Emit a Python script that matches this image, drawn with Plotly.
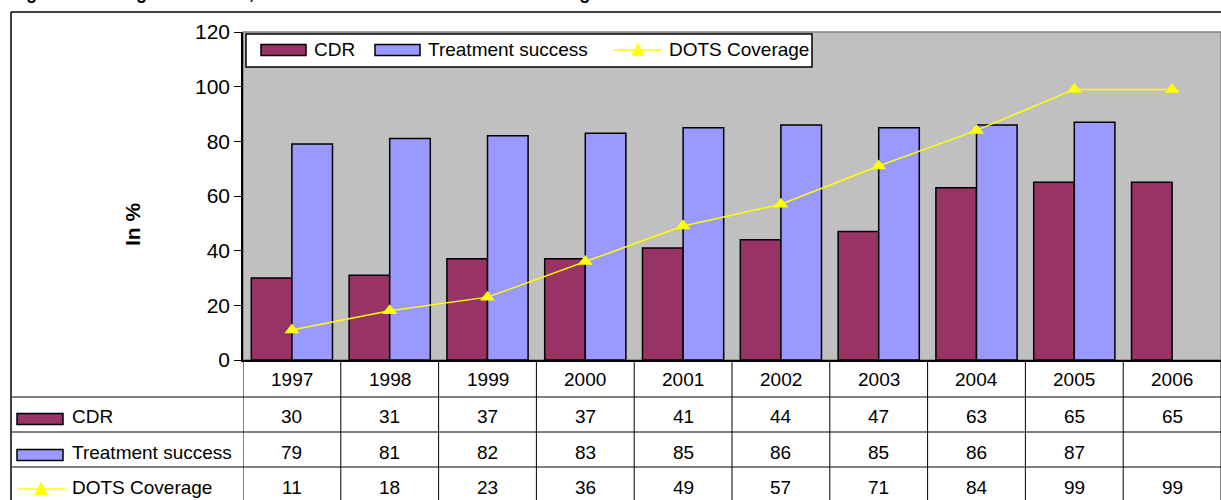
import plotly.graph_objects as go

years = ["1997", "1998", "1999", "2000", "2001", "2002", "2003", "2004", "2005", "2006"]
cdr = [30, 31, 37, 37, 41, 44, 47, 63, 65, 65]
treatment_success = [79, 81, 82, 83, 85, 86, 85, 86, 87, None]
dots_coverage = [11, 18, 23, 36, 49, 57, 71, 84, 99, 99]
series_names = ["CDR", "Treatment success", "DOTS Coverage"]
y_ticks = [0, 20, 40, 60, 80, 100, 120]

C_CDR = "#993366"
C_TS = "#9999FF"
C_DOTS = "#FFFF00"
FONT = "Liberation Sans, Arial, sans-serif"

W, H = 1221, 500
L, R, T, B = 243, 1221, 32, 360


def px(x):
    return (x - L) / (R - L)


def py(y):
    return (B - y) / (B - T)


fig = go.Figure()
fig.add_trace(go.Bar(x=years, y=cdr, name=series_names[0], marker=dict(color=C_CDR, line=dict(color="black", width=1.5))))
fig.add_trace(go.Bar(x=years, y=treatment_success, name=series_names[1], marker=dict(color=C_TS, line=dict(color="black", width=1.5))))
fig.add_trace(go.Scatter(x=years, y=dots_coverage, name=series_names[2], mode="lines+markers",
                         line=dict(color=C_DOTS, width=1.5),
                         marker=dict(symbol="triangle-up", size=13, color=C_DOTS)))

shapes = []
annotations = []

# plot area border (grey)
shapes.append(dict(type="rect", xref="paper", yref="paper", x0=0, x1=1, y0=0, y1=1,
                   line=dict(color="#808080", width=1.5), layer="below"))

# outer frame
shapes.append(dict(type="line", xref="paper", yref="paper", x0=px(11), x1=px(11), y0=py(12), y1=py(H + 2),
                   line=dict(color="black", width=1.5)))
shapes.append(dict(type="line", xref="paper", yref="paper", x0=px(11), x1=1, y0=py(12), y1=py(12),
                   line=dict(color="black", width=1.5)))

# table horizontal lines
row_lines = [397, 432, 467]
for yl in row_lines:
    shapes.append(dict(type="line", xref="paper", yref="paper", x0=px(12), x1=1, y0=py(yl), y1=py(yl),
                       line=dict(color="black", width=1)))

# table vertical lines along category boundaries
n = len(years)
for i in range(n + 1):
    shapes.append(dict(type="line", xref="x", yref="paper", x0=i - 0.5, x1=i - 0.5, y0=0, y1=py(H + 2),
                       line=dict(color="black", width=1)))

# table text
row_y = [379, 416, 452, 488]
rows = [years, cdr, treatment_success, dots_coverage]
for r_i, vals in enumerate(rows):
    for i, v in enumerate(vals):
        if v is None:
            continue
        annotations.append(dict(x=i, y=py(row_y[r_i]), xref="x", yref="paper", text=str(v), showarrow=False,
                                font=dict(family=FONT, size=19, color="black"), xanchor="center", yanchor="middle"))

# row headers with legend keys
hdr_y = row_y[1:]
colors = [C_CDR, C_TS]
for k in range(2):
    yc = hdr_y[k] + 3
    shapes.append(dict(type="rect", xref="paper", yref="paper", x0=px(17), x1=px(63), y0=py(yc - 5.5), y1=py(yc + 5.5),
                       fillcolor=colors[k], line=dict(color="black", width=1.5)))
yc = hdr_y[2] + 1
shapes.append(dict(type="line", xref="paper", yref="paper", x0=px(17), x1=px(65), y0=py(yc), y1=py(yc),
                   line=dict(color=C_DOTS, width=1.5)))


def tri(xc, yc, s=13):
    x0, x1, x2 = px(xc - s / 2), px(xc + s / 2), px(xc)
    y0, y2 = py(yc + s * 0.45), py(yc - s * 0.55)
    return f"M {x0} {y0} L {x1} {y0} L {x2} {y2} Z"


shapes.append(dict(type="path", xref="paper", yref="paper", path=tri(41, yc), fillcolor=C_DOTS,
                   line=dict(color=C_DOTS, width=0.5)))
for k in range(3):
    annotations.append(dict(x=px(70), y=py(hdr_y[k]), xref="paper", yref="paper", text=series_names[k],
                            showarrow=False, font=dict(family=FONT, size=19, color="black"),
                            xanchor="left", yanchor="middle"))

# in-plot legend
shapes.append(dict(type="rect", xref="paper", yref="paper", x0=px(246), x1=px(812), y0=py(67), y1=py(34),
                   fillcolor="white", line=dict(color="black", width=1.5)))
ly = 50
shapes.append(dict(type="rect", xref="paper", yref="paper", x0=px(261), x1=px(306), y0=py(ly + 5.5), y1=py(ly - 5.5),
                   fillcolor=C_CDR, line=dict(color="black", width=1.5)))
shapes.append(dict(type="rect", xref="paper", yref="paper", x0=px(375), x1=px(420), y0=py(ly + 5.5), y1=py(ly - 5.5),
                   fillcolor=C_TS, line=dict(color="black", width=1.5)))
shapes.append(dict(type="line", xref="paper", yref="paper", x0=px(614), x1=px(662), y0=py(ly), y1=py(ly),
                   line=dict(color=C_DOTS, width=1.5)))
shapes.append(dict(type="path", xref="paper", yref="paper", path=tri(638, ly), fillcolor=C_DOTS,
                   line=dict(color=C_DOTS, width=0.5)))
leg_x = [312, 426, 667]
for k in range(3):
    annotations.append(dict(x=px(leg_x[k]), y=py(ly - 1), xref="paper", yref="paper", text=series_names[k],
                            showarrow=False, font=dict(family=FONT, size=19, color="black"),
                            xanchor="left", yanchor="middle"))

# y axis title
annotations.append(dict(x=px(132), y=py(225), xref="paper", yref="paper", text="<b>In %</b>", textangle=-90,
                        showarrow=False, font=dict(family=FONT, size=21, color="black"),
                        xanchor="center", yanchor="middle"))

# figure title, cut off at the top edge as in the reference
annotations.append(dict(x=px(8), y=py(-7), xref="paper", yref="paper",
                        text="<b>Figure 3.1: Progress in CDR, Treatment success and DOTS Coverage</b>",
                        showarrow=False, font=dict(family=FONT, size=18, color="black"),
                        xanchor="left", yanchor="middle"))

fig.update_layout(
    width=W, height=H,
    margin=dict(l=L, r=W - R, t=T, b=H - B, pad=0),
    paper_bgcolor="white",
    plot_bgcolor="#C0C0C0",
    barmode="group",
    bargap=0.17,
    bargroupgap=0,
    showlegend=False,
    shapes=shapes,
    annotations=annotations,
    font=dict(family=FONT, color="black"),
)
fig.update_xaxes(type="category", range=[-0.5, n - 0.5], showticklabels=False, ticks="",
                 showline=True, linecolor="black", linewidth=1.5, showgrid=False, zeroline=False)
fig.update_yaxes(range=[0, 120], tickvals=y_ticks, ticks="outside", ticklen=7, tickcolor="black", tickwidth=1,
                 showline=True, linecolor="black", linewidth=1.5, showgrid=False, zeroline=False,
                 tickfont=dict(family=FONT, size=21, color="black"))

fig.write_html("out.html", config={"displayModeBar": False},
               post_script="document.body.style.margin='0px';document.body.style.overflow='hidden';")
